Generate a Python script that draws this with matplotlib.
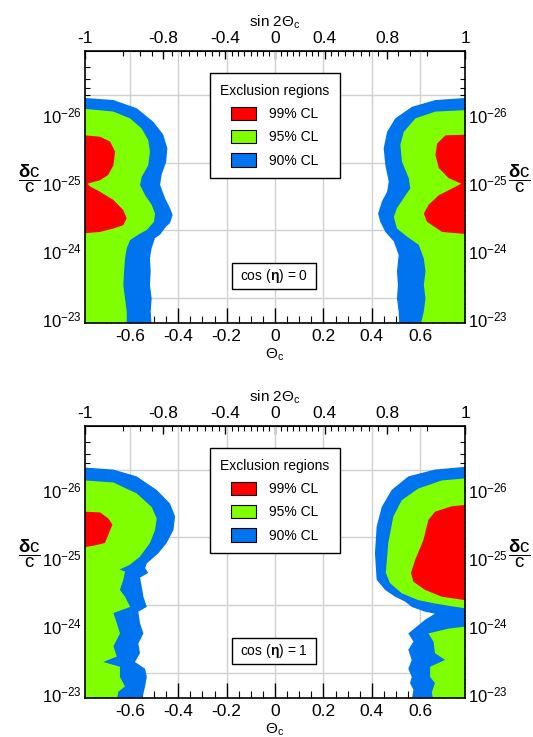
import numpy as np
import matplotlib
matplotlib.use("Agg")
import matplotlib.pyplot as plt
from matplotlib.patches import Patch, Rectangle
from matplotlib.ticker import FixedLocator, MultipleLocator, LogLocator, NullFormatter

plt.rcParams['font.family'] = 'Liberation Sans'
plt.rcParams['mathtext.fontset'] = 'custom'
plt.rcParams['mathtext.rm'] = 'Liberation Sans'
plt.rcParams['mathtext.it'] = 'Liberation Sans:italic'
plt.rcParams['mathtext.bf'] = 'Liberation Sans:bold'

# contour boundaries: (theta_c, log10(dc/c))
# cos(eta) = 0 panel
tl_blue = [(-0.785, -26.25), (-0.668, -26.22), (-0.572, -26.10), (-0.503, -25.90), (-0.462, -25.71),
           (-0.445, -25.51), (-0.450, -25.31), (-0.469, -25.12), (-0.475, -24.97), (-0.455, -24.78),
           (-0.434, -24.63), (-0.423, -24.53), (-0.434, -24.41), (-0.450, -24.36), (-0.475, -24.24),
           (-0.496, -24.19), (-0.510, -24.04), (-0.517, -23.89), (-0.514, -23.70), (-0.517, -23.50),
           (-0.510, -23.30), (-0.514, -23.11), (-0.510, -22.90)]
tl_green = [(-0.785, -26.09), (-0.668, -26.05), (-0.599, -25.95), (-0.551, -25.80), (-0.524, -25.63),
            (-0.517, -25.46), (-0.524, -25.26), (-0.551, -25.09), (-0.558, -24.97), (-0.537, -24.82),
            (-0.510, -24.68), (-0.496, -24.55), (-0.500, -24.43), (-0.530, -24.31), (-0.565, -24.24),
            (-0.599, -24.16), (-0.613, -24.04), (-0.620, -23.89), (-0.624, -23.70), (-0.627, -23.50),
            (-0.620, -23.30), (-0.613, -23.11), (-0.613, -22.90)]
tl_red = [(-0.785, -25.70), (-0.723, -25.68), (-0.682, -25.61), (-0.661, -25.46), (-0.668, -25.26),
          (-0.689, -25.12), (-0.723, -25.04), (-0.775, -24.99), (-0.765, -24.95), (-0.723, -24.87),
          (-0.668, -24.75), (-0.627, -24.60), (-0.613, -24.48), (-0.627, -24.38), (-0.668, -24.33),
          (-0.723, -24.28), (-0.785, -24.26)]
tr_blue = [(0.785, -26.25), (0.663, -26.22), (0.566, -26.12), (0.497, -25.95), (0.463, -25.75),
           (0.449, -25.51), (0.456, -25.26), (0.470, -25.02), (0.463, -24.87), (0.442, -24.73),
           (0.426, -24.55), (0.435, -24.43), (0.456, -24.28), (0.491, -24.14), (0.511, -23.94),
           (0.504, -23.70), (0.508, -23.50), (0.504, -23.30), (0.511, -23.11), (0.514, -22.90)]
tr_green = [(0.785, -26.07), (0.663, -26.05), (0.580, -25.95), (0.532, -25.75), (0.518, -25.56),
            (0.525, -25.31), (0.553, -25.07), (0.559, -24.92), (0.532, -24.78), (0.504, -24.63),
            (0.491, -24.50), (0.504, -24.33), (0.546, -24.21), (0.594, -24.09), (0.615, -23.89),
            (0.622, -23.70), (0.615, -23.50), (0.622, -23.30), (0.615, -23.11), (0.601, -22.90)]
tr_red = [(0.785, -25.71), (0.704, -25.70), (0.670, -25.58), (0.663, -25.41), (0.677, -25.22),
          (0.718, -25.07), (0.770, -24.99), (0.732, -24.92), (0.677, -24.82), (0.635, -24.68),
          (0.615, -24.55), (0.628, -24.43), (0.690, -24.28), (0.785, -24.25)]

# cos(eta) = 1 panel
bl_blue = [(-0.785, -26.33), (-0.668, -26.30), (-0.572, -26.20), (-0.489, -26.00), (-0.434, -25.80),
           (-0.413, -25.61), (-0.420, -25.41), (-0.448, -25.22), (-0.482, -25.07), (-0.530, -24.92),
           (-0.537, -24.85), (-0.524, -24.78), (-0.558, -24.71), (-0.551, -24.58), (-0.544, -24.43),
           (-0.530, -24.28), (-0.565, -24.21), (-0.558, -24.04), (-0.544, -23.89), (-0.565, -23.74),
           (-0.558, -23.60), (-0.579, -23.47), (-0.537, -23.37), (-0.530, -23.25), (-0.537, -23.11),
           (-0.551, -22.90)]
bl_green = [(-0.785, -26.14), (-0.668, -26.11), (-0.572, -25.95), (-0.510, -25.75), (-0.489, -25.58),
            (-0.496, -25.41), (-0.517, -25.22), (-0.558, -25.02), (-0.600, -24.90), (-0.643, -24.83),
            (-0.620, -24.80), (-0.627, -24.68), (-0.641, -24.53), (-0.620, -24.43), (-0.599, -24.28),
            (-0.668, -24.19), (-0.654, -24.04), (-0.641, -23.89), (-0.668, -23.70), (-0.654, -23.55),
            (-0.710, -23.47), (-0.641, -23.40), (-0.641, -23.25), (-0.620, -23.11), (-0.648, -23.03),
            (-0.654, -22.90)]
bl_red = [(-0.785, -25.68), (-0.723, -25.67), (-0.689, -25.58), (-0.672, -25.49), (-0.689, -25.34),
          (-0.703, -25.22), (-0.751, -25.18), (-0.785, -25.16)]
br_blue = [(0.785, -26.34), (0.661, -26.30), (0.551, -26.20), (0.482, -26.00), (0.441, -25.75),
           (0.420, -25.46), (0.413, -25.07), (0.420, -24.68), (0.455, -24.53), (0.496, -24.43),
           (0.537, -24.36), (0.565, -24.28), (0.620, -24.21), (0.661, -24.18), (0.620, -24.09),
           (0.551, -23.89), (0.572, -23.77), (0.551, -23.65), (0.565, -23.50), (0.551, -23.37),
           (0.565, -23.25), (0.558, -23.16), (0.572, -23.06), (0.565, -22.90)]
br_green_up = [(0.785, -26.17), (0.689, -26.14), (0.592, -26.02), (0.524, -25.85), (0.489, -25.61),
               (0.468, -25.22), (0.458, -24.78), (0.475, -24.63), (0.524, -24.48), (0.592, -24.38),
               (0.661, -24.33), (0.730, -24.29), (0.785, -24.26)]
br_green_low = [(0.785, -23.99), (0.716, -23.96), (0.634, -23.89), (0.655, -23.77), (0.661, -23.60),
                (0.703, -23.50), (0.641, -23.40), (0.641, -23.25), (0.661, -23.16), (0.648, -23.02),
                (0.655, -22.90)]
br_red = [(0.785, -25.78), (0.730, -25.76), (0.661, -25.68), (0.634, -25.56), (0.613, -25.26),
          (0.579, -24.97), (0.562, -24.78), (0.572, -24.65), (0.620, -24.53), (0.689, -24.43),
          (0.785, -24.38)]

cl_labels = ['99% CL', '95% CL', '90% CL']
cl_colors = ['#ff0000', '#80ff00', '#0073ee']

theta_ticks = [-0.6, -0.4, -0.2, 0, 0.2, 0.4, 0.6]
theta_labels = ['-0.6', '-0.4', '-0.2', '0', '0.2', '0.4', '0.6']
sin_ticks = [-1, -0.8, -0.4, 0, 0.4, 0.8, 1]
sin_labels = ['-1', '-0.8', '-0.4', '0', '0.4', '0.8', '1']
y_ticks = [1e-26, 1e-25, 1e-24, 1e-23]
y_labels = [r'$10^{-26}$', r'$10^{-25}$', r'$10^{-24}$', r'$10^{-23}$']

panels = [
    ('0', [(tl_blue, 2), (tr_blue, 2), (tl_green, 1), (tr_green, 1), (tl_red, 0), (tr_red, 0)]),
    ('1', [(bl_blue, 2), (br_blue, 2), (bl_green, 1), (br_green_up, 1), (br_green_low, 1),
           (bl_red, 0), (br_red, 0)]),
]


def fill_region(ax, pts, color):
    th = np.array([p[0] for p in pts])
    lg = np.array([p[1] for p in pts])
    edge = np.sign(th[0]) * np.pi / 4
    th = np.clip(th, -np.pi / 4, np.pi / 4)
    ax.fill_betweenx(10.0 ** lg, edge, th, facecolor=color, edgecolor='none', zorder=2)


fig = plt.figure(figsize=(5.33, 7.37), dpi=100)
positions = [[0.1595, 0.5617, 0.713, 0.369], [0.1595, 0.0529, 0.713, 0.369]]

for pos, (cos_val, regions) in zip(positions, panels):
    ax = fig.add_axes(pos)
    ax.set_yscale('log')
    ax.set_xlim(-np.pi / 4, np.pi / 4)
    ax.set_ylim(10 ** -22.94, 10 ** -26.94)

    for pts, ci in regions:
        fill_region(ax, pts, cl_colors[ci])

    # grid
    for t in theta_ticks:
        ax.axvline(t, color='#d0d0d0', lw=1, zorder=0.5)
    for g in [5e-27, 5e-26, 5e-25, 5e-24]:
        ax.axhline(g, color='#d0d0d0', lw=1, zorder=0.5)

    ax.set_xticks(theta_ticks, labels=theta_labels)
    ax.xaxis.set_minor_locator(MultipleLocator(0.05))
    ax.tick_params(axis='x', which='major', direction='in', length=11, width=1,
                   top=False, labelsize=12.5, pad=4)
    ax.tick_params(axis='x', which='minor', direction='in', length=5, width=0.8, top=False)

    ax.yaxis.set_major_locator(FixedLocator(y_ticks))
    ax.set_yticklabels(y_labels)
    ax.yaxis.set_minor_locator(LogLocator(base=10, subs=np.arange(2, 10)))
    ax.yaxis.set_minor_formatter(NullFormatter())
    ax.tick_params(axis='y', which='major', direction='in', length=7, width=1,
                   left=True, right=True, labelleft=True, labelright=True, labelsize=12, pad=2)
    ax.tick_params(axis='y', which='minor', direction='in', length=3.5, width=0.8,
                   left=True, right=True)
    for s in ax.spines.values():
        s.set_linewidth(1.2)
        s.set_zorder(4)

    sec = ax.secondary_xaxis('top', functions=(lambda t: np.sin(2 * t),
                                               lambda s: np.arcsin(np.clip(s, -1, 1)) / 2))
    sec.set_xticks(sin_ticks, labels=sin_labels)
    sec.xaxis.set_minor_locator(FixedLocator(np.arange(-0.95, 0.96, 0.05)))
    sec.tick_params(which='major', direction='in', length=6, width=1, labelsize=12.5, pad=4)
    sec.tick_params(which='minor', direction='in', length=3.5, width=0.8)
    sec.set_xlabel(r'sin 2$\Theta_{\mathrm{c}}$', fontsize=11, labelpad=3)

    ax.set_xlabel(r'$\Theta_{\mathrm{c}}$', fontsize=11, labelpad=2)

    ylab = r'$\dfrac{\mathbf{δ}\mathrm{c}}{\mathrm{c}}$'
    ax.text(-0.147, 0.53, ylab, transform=ax.transAxes, ha='center', va='center', fontsize=13.5)
    ax.text(1.143, 0.53, ylab, transform=ax.transAxes, ha='center', va='center', fontsize=13.5)

    handles = [Patch(facecolor=c, edgecolor='black', lw=0.8) for c in cl_colors]
    leg = ax.legend(handles, cl_labels, title='Exclusion regions', loc='upper center',
                    bbox_to_anchor=(0.5, 0.919), borderaxespad=0, frameon=True, fancybox=False,
                    edgecolor='black', framealpha=1, fontsize=10, title_fontsize=10,
                    handlelength=1.75, handleheight=1.1, labelspacing=0.65,
                    borderpad=0.75, handletextpad=1.0)
    leg.get_frame().set_linewidth(1.0)
    leg.set_zorder(6)

    ax.add_patch(Rectangle((0.387, 0.125), 0.221, 0.096, transform=ax.transAxes,
                           facecolor='white', edgecolor='black', lw=1, zorder=6))
    ax.text(0.497, 0.173, r'cos $(\mathbf{η})$ = ' + cos_val, transform=ax.transAxes,
            ha='center', va='center', fontsize=10, zorder=7)

fig.savefig('out.png', dpi=100)
